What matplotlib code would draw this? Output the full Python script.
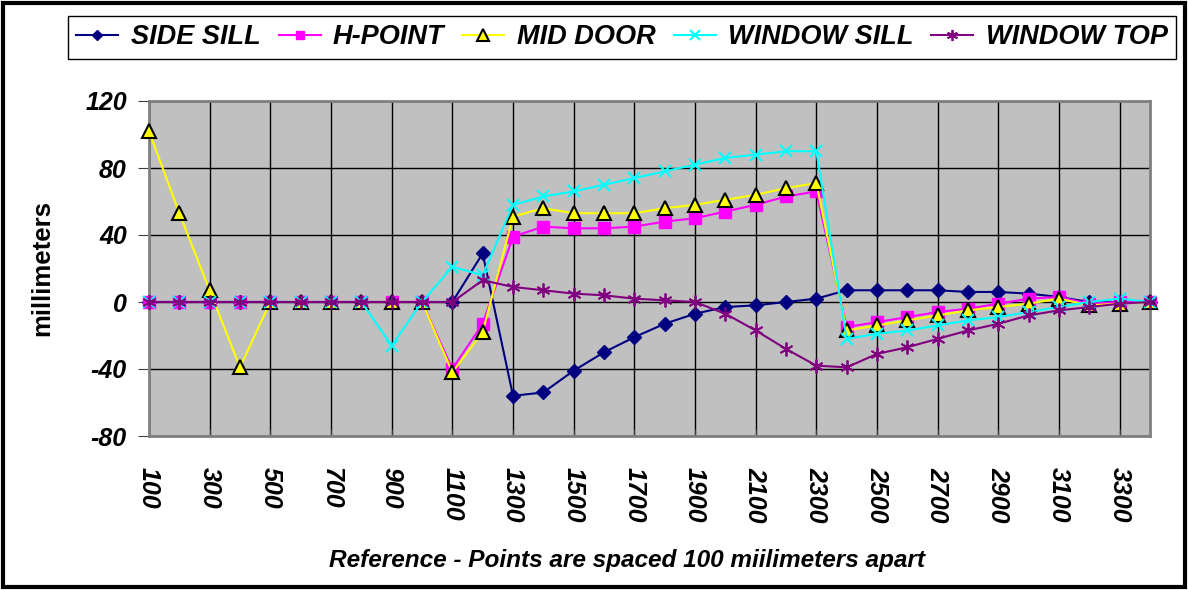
import matplotlib
matplotlib.use("Agg")
import matplotlib.pyplot as plt
from matplotlib.patches import Rectangle

plt.rcParams['font.family'] = ['Liberation Sans', 'DejaVu Sans']

x = list(range(100, 3500, 100))

side_sill = [0, 0, 0, 0, 0, 0, 0, 0, 0, 0, 0, 29, -56, -54, -41, -30, -21, -13, -7, -3, -2, 0, 2,
             7, 7, 7, 7, 6, 6, 5, 3, 0, 0, 0]
h_point = [0, 0, 0, 0, 0, 0, 0, 0, 0, 0, -40, -13, 39, 45, 44, 44, 45, 48, 50, 54, 58, 63, 66,
           -15, -12, -9, -6, -4, -1, 2, 3, -1, 0, 0]
mid_door = [102, 53, 7, -39, 0, 0, 0, 0, 0, 0, -42, -18, 51, 56, 53, 53, 53, 56, 58, 61, 64, 68, 71,
            -17, -14, -11, -8, -5, -3, -1, 2, -2, -1, 0]
window_sill = [0, 0, 0, 0, 0, 0, 0, 0, -26, 0, 21, 16, 58, 63, 66, 70, 74, 78, 82, 86, 88, 90, 90,
               -22, -19, -17, -14, -11, -9, -6, -3, 0, 2, 0]
window_top = [0, 0, 0, 0, 0, 0, 0, 0, 0, 0, 0, 13, 9, 7, 5, 4, 2, 1, 0, -7, -17, -28, -38,
              -39, -31, -27, -22, -17, -13, -8, -5, -3, -1, 0]

series_names = ["SIDE SILL", "H-POINT", "MID DOOR", "WINDOW SILL", "WINDOW TOP"]
xtick_vals = list(range(100, 3400, 200))
ytick_vals = [-80, -40, 0, 40, 80, 120]

W, H = 1188, 590
fig = plt.figure(figsize=(W / 100, H / 100), dpi=100)
ax = fig.add_axes([149 / W, (H - 436) / H, (1150 - 149) / W, (436 - 101) / H])
ax.set_facecolor('#C0C0C0')

styles = [
    dict(color='#000080', marker='D', markersize=7, markerfacecolor='#000080', markeredgecolor='#000080'),
    dict(color='#FF00FF', marker='s', markersize=8, markerfacecolor='#FF00FF', markeredgecolor='#FF00FF'),
    dict(color='#FFFF00', marker='^', markersize=10, markerfacecolor='#FFFF00', markeredgecolor='black', markeredgewidth=1.5),
    dict(color='#00FFFF', marker='x', markersize=9, markeredgewidth=1.5),
    dict(color='#800080', marker=(6, 2, 0), markersize=10, markeredgewidth=1.3),
]
data = [side_sill, h_point, mid_door, window_sill, window_top]
for name, vals, st in zip(series_names, data, styles):
    ax.plot(x, vals, label=name, linewidth=1.5, clip_on=False, zorder=3, **st)

ax.set_xlim(100, 3400)
ax.set_ylim(-80, 120)
ax.set_xticks(xtick_vals)
ax.set_xticklabels([str(v) for v in xtick_vals], rotation=270, fontsize=18,
                   fontweight='bold', fontstyle='italic')
ax.set_yticks(ytick_vals)
ax.set_yticklabels([str(v) for v in ytick_vals], fontsize=18, fontweight='bold', fontstyle='italic')
ax.tick_params(axis='x', direction='in', length=5, pad=22, color='#404040')
ax.tick_params(axis='y', direction='out', length=8, pad=8, color='#404040')
ax.grid(True, color='black', linewidth=1.0, zorder=1)
ax.set_axisbelow(True)
for s in ax.spines.values():
    s.set_color('#808080')
    s.set_linewidth(2)

ax.set_ylabel('millimeters', fontsize=18.5, fontweight='bold', labelpad=22)
fig.text(627 / W, 1 - 560 / H, 'Reference - Points are spaced 100 miilimeters apart',
         fontsize=17.6, fontweight='bold', fontstyle='italic', ha='center', va='center')

leg = fig.legend(loc='center', bbox_to_anchor=(622 / W, 1 - 37.5 / H), ncol=5,
                 prop=dict(size=19.5, weight='bold', style='italic'),
                 frameon=True, fancybox=False, edgecolor='black', framealpha=1,
                 handlelength=1.55, handletextpad=0.45, columnspacing=0.67, borderpad=0.3,
                 markerscale=0.8)
leg.get_frame().set_linewidth(1.0)

fig.patches.append(Rectangle((3 / W, 3 / H), 1 - 6 / W, 1 - 6 / H, transform=fig.transFigure,
                             fill=False, edgecolor='black', linewidth=3))

fig.savefig('out.png', dpi=100)
